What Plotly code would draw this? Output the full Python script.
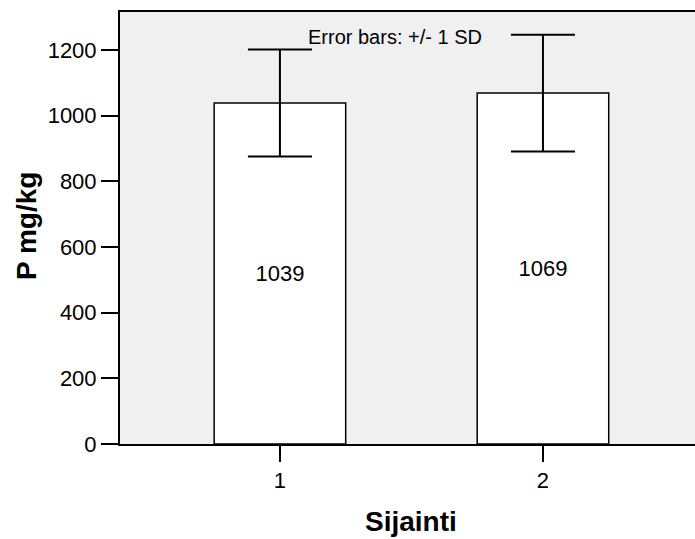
import plotly.graph_objects as go

# Mean P (mg/kg) per location with standard deviations
categories = [1, 2]
category_labels = ["1", "2"]
means = [1039, 1069]
sds = [163, 178]
y_ticks = [0, 200, 400, 600, 800, 1000, 1200]

W, H = 695, 539
L, R, T, B = 120, 0, 12, 95
FONT = "Arial, Liberation Sans, sans-serif"

fig = go.Figure()
fig.add_trace(go.Bar(
    x=categories,
    y=means,
    width=0.5,
    marker=dict(color="white", line=dict(color="black", width=1.5)),
    text=[str(v) for v in means],
    textposition="inside",
    insidetextanchor="middle",
    textfont=dict(family=FONT, size=22, color="black"),
    error_y=dict(type="data", array=sds, visible=True,
                 color="black", thickness=2, width=32),
    showlegend=False,
    hoverinfo="skip",
))

fig.update_layout(
    width=W, height=H,
    margin=dict(l=L, r=R, t=T, b=B, pad=0),
    paper_bgcolor="white",
    plot_bgcolor="#F0F0F0",
    font=dict(family=FONT, color="black"),
    uniformtext=dict(minsize=22, mode="show"),
    xaxis=dict(
        range=[0.392, 2.578],
        tickvals=categories, ticktext=category_labels,
        ticks="outside", ticklen=16, tickwidth=2, tickcolor="black",
        tickfont=dict(size=22),
        showline=True, linecolor="black", linewidth=2, mirror=True,
        showgrid=False, zeroline=False,
    ),
    yaxis=dict(
        range=[0, 1316],
        tickvals=y_ticks,
        ticks="outside", ticklen=17, tickwidth=2, tickcolor="black",
        tickfont=dict(size=22),
        ticklabelstandoff=0,
        showline=True, linecolor="black", linewidth=2,
        showgrid=False, zeroline=False,
    ),
    annotations=[
        dict(text="Error bars: +/- 1 SD", xref="paper", yref="paper",
             x=(395 - L) / (W - L - R), y=1 - (37 - T) / (H - T - B),
             xanchor="center", yanchor="middle", showarrow=False,
             font=dict(size=20)),
        dict(text="<b>Sijainti</b>", xref="paper", yref="paper",
             x=(411 - L) / (W - L - R), y=-(521 - (H - B)) / (H - T - B),
             xanchor="center", yanchor="middle", showarrow=False,
             font=dict(size=28)),
        dict(text="<b>P mg/kg</b>", xref="paper", yref="paper",
             x=-(L - 26) / (W - L - R), y=1 - (226 - T) / (H - T - B),
             xanchor="center", yanchor="middle", showarrow=False,
             textangle=-90, font=dict(size=28)),
    ],
)

fig.write_html("out.html")
